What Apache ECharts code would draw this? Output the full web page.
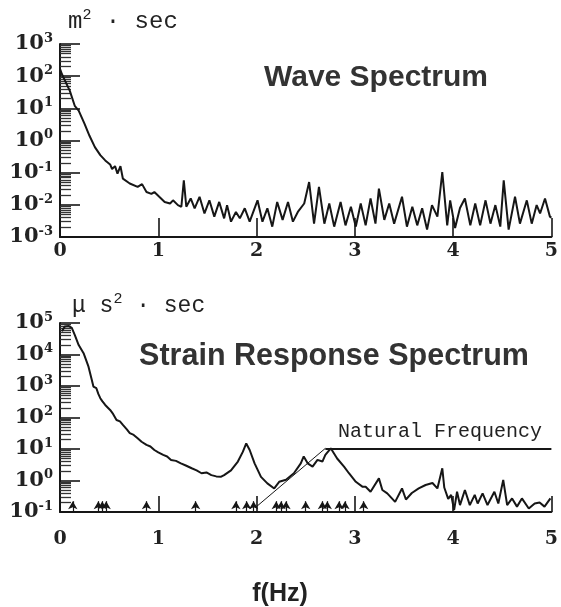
<!DOCTYPE html>
<html>
<head>
<meta charset="utf-8">
<script src="https://cdn.jsdelivr.net/npm/echarts@6/dist/echarts.min.js"></script>
<style>
html,body{margin:0;padding:0;background:#fff;}
#chart{width:561px;height:607px;}
</style>
</head>
<body>
<div id="chart"></div>
<script>
// ---- Data ----
const xTickLabels = ['0', '1', '2', '3', '4', '5'];

// Wave spectrum (m^2·sec) vs f (Hz)
const waveFreq = [0.0,0.02,0.10,0.15,0.19,0.25,0.30,0.355,0.41,0.46,0.51,0.53,0.56,0.585,0.615,0.64,0.71,0.79,0.835,0.88,0.93,0.96,1.01,1.065,1.12,1.15,1.20,1.235,1.26,1.285,1.33,1.37,1.42,1.47,1.52,1.57,1.62,1.67,1.70,1.74,1.79,1.83,1.88,1.93,2.01,2.06,2.11,2.16,2.21,2.265,2.32,2.37,2.42,2.485,2.535,2.585,2.635,2.69,2.74,2.79,2.855,2.905,2.96,3.01,3.06,3.11,3.16,3.21,3.245,3.30,3.35,3.40,3.48,3.53,3.585,3.635,3.685,3.735,3.785,3.84,3.89,3.94,3.97,4.02,4.07,4.12,4.175,4.225,4.275,4.33,4.38,4.43,4.48,4.515,4.565,4.63,4.68,4.75,4.80,4.85,4.885,4.935,4.985,5.0];
const waveVal = [170,115,35,12,8.5,3.3,1.4,0.62,0.35,0.24,0.18,0.13,0.16,0.093,0.16,0.065,0.046,0.036,0.044,0.025,0.022,0.025,0.0178,0.0123,0.011,0.0138,0.0098,0.0087,0.058,0.0087,0.0158,0.0078,0.0178,0.0054,0.0138,0.0043,0.0123,0.0038,0.0098,0.0030,0.0060,0.0038,0.0078,0.0030,0.0138,0.0030,0.0078,0.0021,0.0123,0.0034,0.0123,0.0030,0.0060,0.011,0.051,0.0026,0.036,0.0026,0.011,0.0021,0.0123,0.0023,0.0087,0.0021,0.011,0.0023,0.0158,0.0026,0.032,0.0034,0.011,0.0026,0.0178,0.0021,0.0087,0.0023,0.0078,0.0017,0.0098,0.0043,0.105,0.0023,0.0138,0.0019,0.0080,0.0158,0.0023,0.011,0.0023,0.0138,0.0026,0.0098,0.0021,0.058,0.0017,0.0178,0.0026,0.0138,0.0026,0.0098,0.0054,0.0158,0.0043,0.0040];

// Strain response spectrum (μs^2·sec) vs f (Hz)
const strainFreq = [0.02,0.05,0.09,0.12,0.15,0.19,0.24,0.29,0.32,0.34,0.37,0.39,0.41,0.43,0.46,0.48,0.51,0.54,0.575,0.61,0.64,0.68,0.71,0.75,0.79,0.83,0.88,0.92,0.96,1.00,1.05,1.09,1.13,1.18,1.23,1.28,1.34,1.39,1.44,1.49,1.54,1.59,1.64,1.67,1.74,1.81,1.86,1.895,1.93,1.98,2.045,2.11,2.18,2.23,2.30,2.38,2.45,2.48,2.52,2.57,2.62,2.67,2.70,2.755,2.82,2.89,2.94,3.01,3.08,3.11,3.16,3.245,3.28,3.33,3.41,3.48,3.52,3.58,3.65,3.72,3.79,3.84,3.89,3.91,3.95,3.98,4.01,4.04,4.07,4.12,4.17,4.22,4.25,4.30,4.35,4.42,4.46,4.51,4.55,4.60,4.65,4.70,4.77,4.83,4.88,4.93,4.99];
const strainVal = [55000,78000,80000,70000,42000,20000,11000,4100,1740,960,850,560,410,330,250,230,174,130,83,75,58,42,32,28,22,17,13.5,12,9.3,7.8,6.5,5.8,4.5,4.2,3.5,3.0,2.45,2.1,1.7,1.8,1.48,1.35,1.32,1.48,2.1,4.0,8.1,15,9.3,3.5,1.3,0.81,0.56,0.91,1.05,1.7,3.5,5.8,3.5,2.75,4.5,4.0,6.5,10.5,5.0,2.75,1.7,0.91,0.63,0.63,0.44,1.17,0.5,0.39,0.21,0.56,0.25,0.40,0.56,0.72,0.83,0.56,2.45,0.6,0.26,0.35,0.115,0.44,0.166,0.5,0.166,0.35,0.186,0.39,0.166,0.44,0.186,1.05,0.166,0.27,0.148,0.27,0.129,0.186,0.2,0.148,0.27];

// Natural-frequency arrows (Hz) and their extent on the log axis
const arrowFreq = [0.13,0.39,0.43,0.47,0.88,1.38,1.79,1.90,1.97,2.20,2.25,2.30,2.50,2.67,2.72,2.84,2.90,3.09];
const arrowBase = 0.1, arrowTip = 0.22;
// "Natural Frequency" annotation: leader start (peak), horizontal end, leader end
const natStart = [2.70, 10.5];
const natEnd = [5.0, 10.5];
const natLeaderEnd = [1.99, 0.14];

// ---- Chart ----
const chart = echarts.init(document.getElementById('chart'), null, {renderer: 'canvas'});
const ink = '#161616';
const serif = 'DejaVu Serif';

function xAxisCfg(idx, tickLen, margin) {
  return {
    type: 'value', gridIndex: idx, min: 0, max: 5, interval: 1,
    axisLine: {onZero: false, lineStyle: {color: ink, width: 2}},
    axisTick: {inside: true, length: tickLen, lineStyle: {color: ink, width: 1.6}},
    splitLine: {show: false},
    axisLabel: {
      margin: margin, fontFamily: serif, fontWeight: 'bold', fontSize: 19, color: '#222',
      formatter: v => xTickLabels[Math.round(v)]
    }
  };
}
function yAxisCfg(idx, mn, mx) {
  return {
    type: 'log', logBase: 10, gridIndex: idx, min: mn, max: mx, splitNumber: 6,
    axisLine: {show: true, onZero: false, lineStyle: {color: ink, width: 2}},
    axisTick: {inside: true, length: 20, lineStyle: {color: ink, width: 1.6}},
    minorTick: {show: true, splitNumber: 9, length: 11, lineStyle: {color: '#333', width: 1.3}},
    splitLine: {show: false},
    axisLabel: {
      margin: 7,
      formatter: v => '{b|10}{s|' + Math.round(Math.log10(v)) + '}',
      rich: {
        b: {fontFamily: serif, fontWeight: 'bold', fontSize: 21, color: '#222'},
        s: {fontFamily: serif, fontWeight: 'bold', fontSize: 13, color: '#222', padding: [0, 0, 11, 0]}
      }
    }
  };
}

const arrowLines = arrowFreq.map(f => [
  {coord: [f, arrowBase], symbol: 'none'},
  {coord: [f, arrowTip], symbol: 'arrow', symbolSize: [7, 8]}
]);
const natLines = [
  [{coord: natStart, symbol: 'none', lineStyle: {width: 2, color: ink}}, {coord: natEnd, symbol: 'none'}],
  [{coord: natStart, symbol: 'none', lineStyle: {width: 1, color: ink}}, {coord: natLeaderEnd, symbol: 'none'}]
];

const option = {
  animation: false,
  backgroundColor: '#fff',
  grid: [
    {left: 60, right: 8, top: 44, height: 193},
    {left: 60, right: 8, top: 323, height: 189}
  ],
  xAxis: [xAxisCfg(0, 19, 5), xAxisCfg(1, 16, 18)],
  yAxis: [yAxisCfg(0, 1e-3, 1e3), yAxisCfg(1, 1e-1, 1e5)],
  series: [
    {
      type: 'line', xAxisIndex: 0, yAxisIndex: 0, symbol: 'none', silent: true,
      lineStyle: {color: ink, width: 2},
      data: waveFreq.map((f, i) => [f, waveVal[i]])
    },
    {
      type: 'line', xAxisIndex: 1, yAxisIndex: 1, symbol: 'none', silent: true,
      lineStyle: {color: ink, width: 2},
      data: strainFreq.map((f, i) => [f, strainVal[i]]),
      markLine: {
        silent: true, animation: false,
        symbol: ['none', 'arrow'], symbolSize: 8,
        label: {show: false},
        lineStyle: {color: ink, width: 1.2, type: 'solid'},
        itemStyle: {color: ink},
        emphasis: {disabled: true},
        data: arrowLines.concat(natLines)
      }
    }
  ],
  graphic: [
    {type: 'text', left: 68, top: 8, silent: true,
     style: {text: '{a|m}{s|2}{a| · sec}', rich: {
       a: {fontFamily: 'Liberation Mono', fontSize: 24, fill: '#222', color: '#222'},
       s: {fontFamily: 'Liberation Mono', fontSize: 15, fill: '#222', color: '#222', padding: [0, 0, 12, 0]}
     }}},
    {type: 'text', left: 72, top: 292, silent: true,
     style: {text: '{a|μ s}{s|2}{a| · sec}', rich: {
       a: {fontFamily: 'Liberation Mono', fontSize: 23, fill: '#222', color: '#222'},
       s: {fontFamily: 'Liberation Mono', fontSize: 15, fill: '#222', color: '#222', padding: [0, 0, 12, 0]}
     }}},
    {type: 'text', x: 376, y: 78, silent: true,
     style: {text: 'Wave Spectrum', fontFamily: 'Liberation Sans', fontWeight: 'bold', fontSize: 30,
             fill: '#333', textAlign: 'center', textVerticalAlign: 'middle'}},
    {type: 'text', x: 334, y: 357, silent: true,
     style: {text: 'Strain Response Spectrum', fontFamily: 'Liberation Sans', fontWeight: 'bold', fontSize: 30.5,
             fill: '#333', textAlign: 'center', textVerticalAlign: 'middle'}},
    {type: 'text', x: 338, y: 432, silent: true,
     style: {text: 'Natural Frequency', fontFamily: 'Liberation Mono', fontSize: 20,
             fill: '#222', textAlign: 'left', textVerticalAlign: 'middle'}},
    {type: 'text', x: 280, y: 594, silent: true,
     style: {text: 'f(Hz)', fontFamily: 'Liberation Sans', fontWeight: 'bold', fontSize: 25,
             fill: '#222', textAlign: 'center', textVerticalAlign: 'middle'}}
  ]
};
chart.setOption(option);
</script>
</body>
</html>
